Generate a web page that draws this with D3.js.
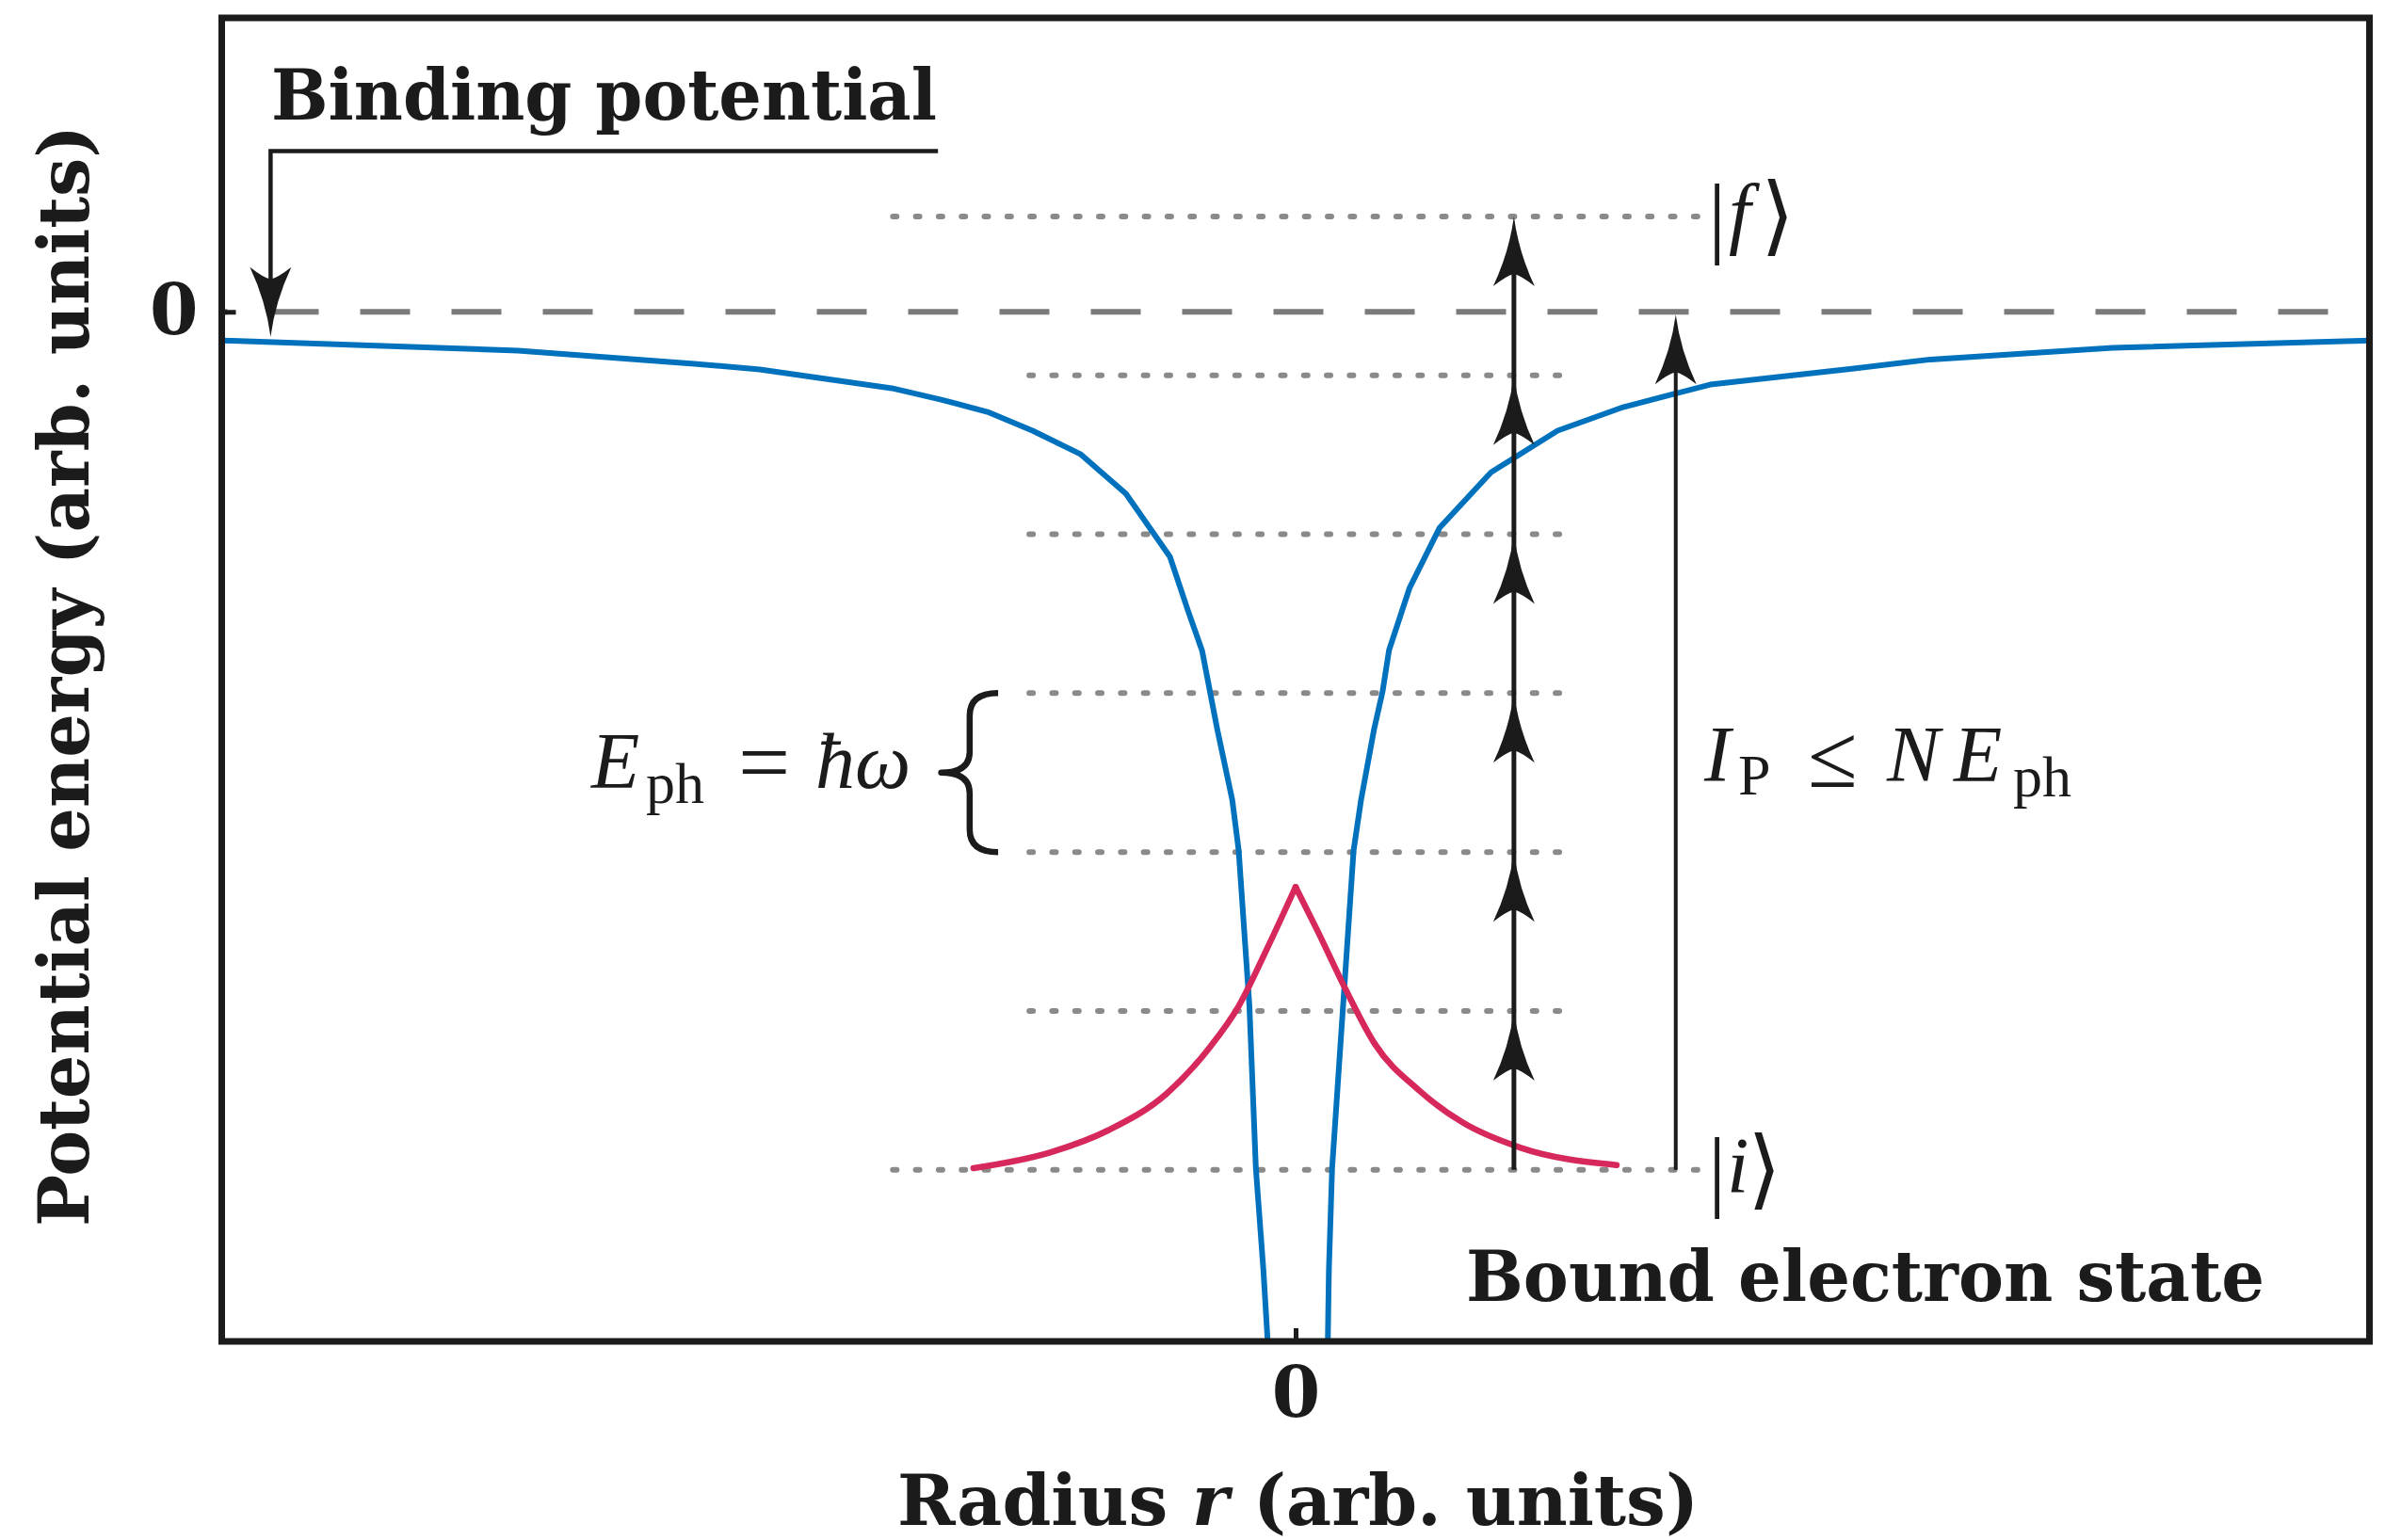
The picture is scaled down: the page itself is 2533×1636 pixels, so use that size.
<!DOCTYPE html>
<html>
<head>
<meta charset="utf-8">
<script src="https://cdn.jsdelivr.net/npm/d3@7"></script>
<style>
  html, body { margin: 0; padding: 0; background: #fff; }
  svg { display: block; }
</style>
</head>
<body>
<div id="chart"></div>
<script>
// binding potential, left and right branches (r in arb. units, V in photon-energy units)
const potLeftR  = [-10, -7.24, -5.60, -4.99, -3.76, -3.30, -2.87, -2.45, -2.00, -1.58, -1.17, -1.00, -0.87, -0.73, -0.59, -0.53, -0.43, -0.37, -0.30, -0.26];
const potLeftV  = [-0.18, -0.244, -0.327, -0.363, -0.481, -0.553, -0.630, -0.748, -0.897, -1.145, -1.542, -1.885, -2.135, -2.626, -3.071, -3.39, -4.37, -5.39, -6.03, -6.48];
const potRightR = [0.30, 0.31, 0.34, 0.44, 0.54, 0.61, 0.73, 0.81, 0.87, 1.06, 1.34, 1.82, 2.44, 3.05, 3.86, 5.18, 5.91, 7.61, 10];
const potRightV = [-6.48, -6.03, -5.39, -4.39, -3.39, -3.07, -2.63, -2.39, -2.13, -1.74, -1.36, -1.01, -0.748, -0.60, -0.458, -0.358, -0.30, -0.226, -0.18];

// bound electron wavefunction (drawn on top of the initial level)
const stateR = [-3.00, -2.28, -1.74, -1.20, -0.80, -0.53, -0.26, 0, 0.20, 0.47, 0.74, 1.15, 1.55, 2.09, 2.99];
const stateV = [-5.39, -5.29, -5.15, -4.92, -4.63, -4.37, -4.00, -3.62, -3.89, -4.27, -4.61, -4.90, -5.10, -5.26, -5.37];

// energy levels: |i>, intermediate photon steps, |f>
const levelE    = [-5.4, -4.4, -3.4, -2.4, -1.4, -0.4, 0.6];
const levelFrom = [-3.75, -2.48, -2.48, -2.48, -2.48, -2.48, -3.75];
const levelTo   = [3.76, 2.515, 2.515, 2.515, 2.515, 2.515, 3.76];

const xTicks = [0];
const yTicks = [0];
const xDomain = [-10, 10];
const yDomain = [-6.48, 1.85];

const W = 2533, H = 1636;
const frame = { left: 235.5, right: 2516.5, top: 19, bottom: 1425 };

const svg = d3.select("#chart").append("svg")
    .attr("width", W)
    .attr("height", H)
    .attr("viewBox", [0, 0, W, H])
    .style("background", "#fff");

const x = d3.scaleLinear().domain(xDomain).range([frame.left, frame.right]);
const y = d3.scaleLinear().domain(yDomain).range([frame.bottom, frame.top]);

const ink = "#1b1b1b";
const boldFont = "'DejaVu Serif', serif";
const mathFont = "'Liberation Serif', 'DejaVu Serif', serif";

// dotted energy levels
svg.append("g")
    .selectAll("line")
    .data(levelE)
    .join("line")
    .attr("x1", (d, i) => x(levelFrom[i]))
    .attr("x2", (d, i) => x(levelTo[i]))
    .attr("y1", d => y(d))
    .attr("y2", d => y(d))
    .attr("stroke", "#8a8a8a")
    .attr("stroke-width", 6)
    .attr("stroke-linecap", "round")
    .attr("stroke-dasharray", "4 20.3");

// zero of energy, dashed
svg.append("line")
    .attr("x1", x(xDomain[0]))
    .attr("x2", x(xDomain[1]))
    .attr("y1", y(0))
    .attr("y2", y(0))
    .attr("stroke", "#7a7a7a")
    .attr("stroke-width", 6)
    .attr("stroke-dasharray", "53 44")
    .attr("stroke-dashoffset", 47);

// potential curve
const line = d3.line().x(d => x(d[0])).y(d => y(d[1]));
[[potLeftR, potLeftV], [potRightR, potRightV]].forEach(([rs, vs]) => {
    svg.append("path")
        .datum(d3.zip(rs, vs))
        .attr("d", line)
        .attr("fill", "none")
        .attr("stroke", "#0072bd")
        .attr("stroke-width", 6)
        .attr("stroke-linejoin", "round");
});

// wavefunction: smooth on each side, cusp at r = 0
const statePts = d3.zip(stateR, stateV);
const peak = d3.maxIndex(stateV);
const smooth = d3.line().curve(d3.curveMonotoneX).x(d => x(d[0])).y(d => y(d[1]));
[statePts.slice(0, peak + 1), statePts.slice(peak)].forEach(pts => {
    svg.append("path")
        .datum(pts)
        .attr("d", smooth)
        .attr("fill", "none")
        .attr("stroke", "#d7285c")
        .attr("stroke-width", 6.5)
        .attr("stroke-linejoin", "round")
        .attr("stroke-linecap", "round");
});

// stealth arrow head, tip at origin pointing up
const headPath = "M0,0 Q5,38 22,74 Q8,63 0,61 Q-8,63 -22,74 Q-5,38 0,0 Z";
function head(px, py, angle) {
    svg.append("path")
        .attr("d", headPath)
        .attr("transform", `translate(${px},${py}) rotate(${angle})`)
        .attr("fill", ink);
}

// multi-photon ladder
const ladderR = 2.033;
svg.append("line")
    .attr("x1", x(ladderR)).attr("x2", x(ladderR))
    .attr("y1", y(levelE[0])).attr("y2", y(levelE[levelE.length - 1]) + 20)
    .attr("stroke", ink).attr("stroke-width", 5);
levelE.slice(1).forEach(e => head(x(ladderR), y(e), 0));

// ionisation potential arrow
const ipR = 3.54;
svg.append("line")
    .attr("x1", x(ipR)).attr("x2", x(ipR))
    .attr("y1", y(levelE[0])).attr("y2", y(0) + 25)
    .attr("stroke", ink).attr("stroke-width", 4);
head(x(ipR), y(0) + 3, 0);

// binding potential pointer
const bindX = -9.545, bindTop = 1.011, bindEnd = -3.33, bindTip = -0.157;
svg.append("path")
    .attr("d", `M${x(bindEnd)},${y(bindTop)} H${x(bindX)} V${y(bindTip) - 20}`)
    .attr("fill", "none")
    .attr("stroke", ink)
    .attr("stroke-width", 4.5);
head(x(bindX), y(bindTip), 180);

// curly brace for the photon energy
const braceTip = x(-3.30), braceEnd = x(-2.77);
const bt = y(-2.4), bb = y(-3.4), bm = (bt + bb) / 2, bx = (braceTip + braceEnd) / 2;
svg.append("path")
    .attr("d", `M${braceEnd},${bt} Q${bx},${bt} ${bx},${bt + 24} L${bx},${bm - 22} Q${bx},${bm} ${braceTip},${bm}` +
               ` Q${bx},${bm} ${bx},${bm + 22} L${bx},${bb - 24} Q${bx},${bb} ${braceEnd},${bb}`)
    .attr("fill", "none")
    .attr("stroke", ink)
    .attr("stroke-width", 6.5)
    .attr("stroke-linejoin", "round");

// frame
svg.append("rect")
    .attr("x", frame.left)
    .attr("y", frame.top)
    .attr("width", frame.right - frame.left)
    .attr("height", frame.bottom - frame.top)
    .attr("fill", "none")
    .attr("stroke", ink)
    .attr("stroke-width", 7);

// axes, ticks pointing inward
const xAxis = svg.append("g")
    .attr("transform", `translate(0,${frame.bottom})`)
    .call(d3.axisBottom(x).tickValues(xTicks).tickSizeInner(-14).tickSizeOuter(0).tickPadding(27).tickFormat(d3.format("d")));
const yAxis = svg.append("g")
    .attr("transform", `translate(${frame.left},0)`)
    .call(d3.axisLeft(y).tickValues(yTicks).tickSizeInner(-15).tickSizeOuter(0).tickPadding(25).tickFormat(d3.format("d")));
[xAxis, yAxis].forEach(g => {
    g.select(".domain").remove();
    g.selectAll(".tick line").attr("stroke", ink).attr("stroke-width", 5);
    g.selectAll(".tick text")
        .attr("fill", ink)
        .style("font-family", boldFont)
        .style("font-weight", "bold")
        .style("font-size", "74px");
});

// bold labels
function boldLabel(txt, px, py, len, anchor) {
    return svg.append("text")
        .attr("x", px)
        .attr("y", py)
        .attr("text-anchor", anchor || "start")
        .attr("textLength", len)
        .attr("lengthAdjust", "spacingAndGlyphs")
        .attr("fill", ink)
        .style("font-family", boldFont)
        .style("font-weight", "bold")
        .style("font-size", "74px")
        .text(txt);
}
boldLabel("Binding potential", 288, 127, 707);
boldLabel("Bound electron state", 1557, 1382, 848);

const xLabel = svg.append("text")
    .attr("x", 953)
    .attr("y", 1620)
    .attr("textLength", 851)
    .attr("lengthAdjust", "spacingAndGlyphs")
    .attr("fill", ink)
    .style("font-family", boldFont)
    .style("font-weight", "bold")
    .style("font-size", "74px");
xLabel.append("tspan").text("Radius ");
xLabel.append("tspan").style("font-style", "italic").text("r");
xLabel.append("tspan").text(" (arb. units)");

svg.append("text")
    .attr("transform", "translate(94,718) rotate(-90)")
    .attr("text-anchor", "middle")
    .attr("textLength", 1170)
    .attr("lengthAdjust", "spacingAndGlyphs")
    .attr("fill", ink)
    .style("font-family", boldFont)
    .style("font-weight", "bold")
    .style("font-size", "74px")
    .text("Potential energy (arb. units)");

// math annotations
function mathText(parts) {
    const t = svg.append("text")
        .attr("fill", ink)
        .style("font-family", mathFont);
    parts.forEach(p => {
        t.append("tspan")
            .attr("x", p.x)
            .attr("y", p.y)
            .style("font-size", (p.size || 84) + "px")
            .style("font-style", p.italic ? "italic" : "normal")
            .style("font-family", p.family || mathFont)
            .text(p.s);
    });
    return t;
}

mathText([
    { s: "E", x: 628, y: 837, italic: true },
    { s: "ph", x: 686, y: 853, size: 62 },
    { s: "=", x: 784, y: 842, size: 98 },
    { s: "ħω", x: 866, y: 837, italic: true }
]);

mathText([
    { s: "I", x: 1810, y: 830, italic: true },
    { s: "P", x: 1846, y: 844, size: 62 },
    { s: "≤", x: 1920, y: 836, size: 96 },
    { s: "N", x: 2004, y: 830, italic: true },
    { s: "E", x: 2075, y: 830, italic: true },
    { s: "ph", x: 2138, y: 846, size: 62 }
]);

// kets
function ket(sym, e) {
    const cy = y(e);
    mathText([
        { s: "|", x: 1814, y: cy + 32, size: 96 },
        { s: sym, x: sym === "f" ? 1836 : 1834, y: cy + 24, italic: true },
        { s: "⟩", x: sym === "f" ? 1870 : 1856, y: cy + 30, size: 92, family: "'DejaVu Serif', 'DejaVu Sans', serif" }
    ]);
}
ket("f", levelE[levelE.length - 1]);
ket("i", levelE[0]);
</script>
</body>
</html>
